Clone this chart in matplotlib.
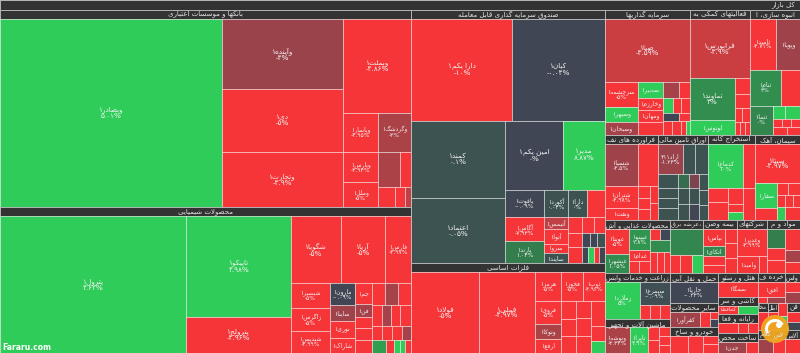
import matplotlib
matplotlib.use('Agg')
import matplotlib.pyplot as plt
from matplotlib.patches import Rectangle, Circle, Wedge
from matplotlib.colors import LinearSegmentedColormap

plt.rcParams['font.family'] = ['DejaVu Sans', 'Noto Sans']

# each cell: (symbol, market value, change label, colour tone -3..3)
banks = [('وبصادر۱', 43740, '۵.۰۱%', 3), ('وآینده۱', 8877, '-۴%', -1.3), ('دی۱', 7989, '-۵%', -3),
         ('وتجارت۱', 6974, '-۴.۹%', -3), ('وبملت۱', 6699, '-۴.۸۶%', -3), ('وپاسار۱', 1430, '-۴.۹۵%', -3),
         ('وپارس۱', 1100, '-۴.۹۴%', -3), ('وملل۱', 917, '-۵%', -3), ('وگردشگ۱', 1349, '-۳%', -1.6),
         ('', 807, '', -1.6), ('', 403, '', -3), ('', 356, '', -3), ('', 210, '', -3), ('', 126, '', -2)]
banks_tree = ('h', [0, ('h', [('v', [1, 2, 3]), ('v', [4, ('h', [('v', [5, 6, 7]),
              ('v', [8, ('v', [('h', [9, 10]), ('h', [11, 12, 13])])])])])])])

chem = [('پترول۱', 27160, '۴.۶۲%', 3), ('تاپیکو۱', 11200, '۴.۹۸%', 3), ('پترولج۱', 3990, '-۴.۹۶%', -3),
        ('شگویا۱', 3571, '-۵%', -3), ('آریا۱', 3214, '-۵%', -3), ('فارس۱', 1857, '-۴.۹۷%', -3),
        ('شبصیر۱', 1039, '-۵%', -3), ('زاگرس۱', 956, '-۵%', -3), ('شیدپس۱', 915, '-۴.۹۹%', -3),
        ('مارون۱', 560, '-۰.۰۹%', 0), ('ساینا۱', 426, '', -1.4), ('نوری۱', 426, '', -3), ('شاراک۱', 400, '', -3),
        ('جم۱', 381, '', -3), ('فن۱', 236, '', -1.5), ('', 199, '', -3), ('', 217, '', -3), ('', 236, '', -3),
        ('', 305, '', -3), ('', 305, '', -1.5), ('', 305, '', -3),
        ('', 224, '', -3), ('', 201, '', -1.5), ('', 201, '', -3), ('', 246, '', -3),
        ('', 149, '', -3), ('', 149, '', -3), ('', 149, '', -3), ('', 134, '', -1.5),
        ('', 194, '', 2), ('', 111, '', -3), ('', 83, '', 3), ('', 69, '', 3), ('', 83, '', -3)]
chem_tree = ('h', [0, ('v', [1, 2]), ('v', [('h', [3, 4, 5]), ('h', [('v', [6, 7, 8]), ('v', [9, 10, 11, 12]),
             ('v', [13, 14, 15, 16, 17]), ('v', [('h', [18, 19, 20]), ('h', [21, 22, 23, 24]),
             ('h', [25, 26, 27, 28]), ('h', [29, 30, 31, 32, 33])])])])])

fund = [('دارا یکم۱', 10683, '-۱۰%', -3), ('کیان۱', 9731, '-۰.۰۴%', 0), ('کمند۱', 7506, '۰.۱%', 0.3),
        ('اعتماد۱', 6336, '۰.۰۵%', 0.3), ('امین یکم۱', 4150, '۰%', 0), ('مدیر۱', 3005, '۸.۸۷%', 3),
        ('یاقوت۱', 1092, '-۰.۰۹%', 0), ('آگاس۱', 971, '-۷.۹۳%', -3), ('پارند۱', 890, '۱.۰۴%', 1.2),
        ('آکورد۱', 672, '۰.۰۴%', 0.3), ('دارا۱', 532, '۰%', 0.3), ('', 504, '', -3),
        ('آتیمس۱', 274, '', -2), ('آتوا۱', 373, '', -3), ('سرو۱', 224, '', -3), ('صایند۱', 249, '', 0.3),
        ('', 232, '', -3), ('', 199, '', -3), ('', 183, '', -3), ('', 203, '', -3), ('', 232, '', -3),
        ('', 116, '', 0), ('', 102, '', 0), ('', 116, '', 0.3),
        ('', 100, '', 0), ('', 100, '', 3), ('', 83, '', -3), ('', 100, '', 0)]
fund_tree = ('v', [('h', [0, 1]), ('h', [('v', [2, 3]), ('v', [('h', [4, 5]), ('h', [('v', [6, 7, 8]),
             ('v', [('h', [9, 10, 11]), ('h', [('v', [12, 13, 14, 15]), ('v', [('h', [16, 17, 18]),
             ('h', [('v', [19, 20]), ('v', [('h', [21, 22, 23]), ('h', [24, 25, 26, 27])])])])])])])])])])

metals = [('فولاد۱', 6030, '-۵%', -3), ('فملی۱', 5040, '-۴.۹۷%', -3), ('هرمز۱', 838, '-۵%', -3),
          ('فخوز۱', 709, '-۵%', -3), ('ذوب۱', 677, '-۴.۹۶%', -3), ('فروی۱', 664, '-۵%', -3),
          ('وتوکا۱', 433, '', -1.6), ('ارفع۱', 404, '', -3),
          ('', 300, '', -3), ('', 283, '', -3), ('', 283, '', -3), ('', 283, '', -3), ('', 300, '', -3),
          ('', 283, '', -3), ('', 389, '', -3), ('', 233, '', -3), ('', 187, '', 3)]
metals_tree = ('h', [0, 1, ('v', [('h', [2, 3, 4]), ('h', [('v', [5, 6, 7]),
               ('h', [('v', [8, 9, 10]), ('v', [11, 12, 13]), ('v', [14, 15, 16])])])])])

invest = [('صبا۱', 5772, '-۳.۵۹%', -2.2), ('سرچشمه۱', 889, '-۵%', -3), ('وسپهر۱', 534, '', 3),
          ('وسبحان۱', 462, '', -1.5), ('سدبیر۱', 431, '', 3), ('وخارزم۱', 323, '', -3), ('ومهان۱', 323, '', -3),
          ('', 350, '', -3), ('', 276, '', -1.5), ('', 190, '', -3), ('', 162, '', 3), ('', 129, '', -3),
          ('', 146, '', -3), ('', 138, '', 0), ('', 95, '', -3), ('', 136, '', -3), ('', 136, '', -3),
          ('', 75, '', -3), ('', 60, '', 3)]
invest_tree = ('v', [0, ('h', [('v', [1, 2, 3]), ('v', [4, 5, 6, 7]),
               ('v', [('h', [8, 9]), ('h', [10, 11, 12]), ('h', [13, 14]), ('h', [15, 16, 17, 18])])])])

facil = [('فرابورس۱', 3816, '-۳.۹%', -2.2), ('تماوند۱', 2038, '۳%', 1.6), ('لوتوس۱', 728, '', 3),
         ('', 259, '', -3), ('', 226, '', -3), ('', 113, '', -3), ('', 113, '', -3),
         ('', 70, '', -3), ('', 70, '', -3), ('', 70, '', -3)]
facil_tree = ('v', [0, ('h', [('v', [1, 2]), ('v', [3, 4, ('h', [5, 6]), ('h', [7, 8, 9])])])])

mass = [('ثامید۱', 1430, '-۴.۷۱%', -3), ('وپویا۱', 1320, '', -1.4), ('ثنام۱', 1203, '۳%', 1.6),
        ('', 737, '', -3), ('ثتما۱', 719, '۰%', 1.4), ('', 168, '', 3), ('', 210, '', 3),
        ('', 78, '', -3), ('', 78, '', -3), ('', 78, '', -3), ('', 121, '', -3), ('', 112, '', -3)]
mass_tree = ('v', [('h', [0, 1]), ('h', [2, 3]), ('h', [4, ('v', [('h', [5, 6]), ('h', [7, 8, 9]), ('h', [10, 11])])])])

oil = [('شسپا۱', 1567, '-۴.۵%', -1.4), ('', 949, '', -3), ('شتران۱', 801, '-۴.۹۸%', -3), ('ونفت۱', 437, '', -3),
       ('', 159, '', -3), ('', 146, '', -3), ('', 146, '', -3), ('', 150, '', -3), ('', 150, '', -3)]
oil_tree = ('v', [('h', [0, 1]), ('h', [('v', [2, 3]), ('v', [4, 5, 6]), ('v', [7, 8])])])

papers = [('اراد۴۱۱', 856, '-۱.۲۴%', -1.3), ('', 411, '', 0.3), ('', 445, '', 0.3),
          ('', 309, '', 0.3), ('', 221, '', 0.3), ('', 221, '', 0.3), ('', 265, '', 0.3),
          ('', 170, '', 0.8), ('', 194, '', 0.3), ('', 194, '', 0.3),
          ('', 155, '', -0.8), ('', 177, '', 0.3), ('', 177, '', 0),
          ('', 159, '', 0.3), ('', 149, '', 0.3), ('', 149, '', 0.3)]
papers_tree = ('v', [('h', [0, 1, 2]), ('h', [('v', [3, 4, 5, 6]), ('v', [7, 8, 9]), ('v', [10, 11, 12]), ('v', [13, 14, 15])])])

mining = [('کدماغ۱', 1739, '۱۰%', 3), ('', 596, '', -3), ('', 309, '', -3), ('', 397, '', -3),
          ('', 265, '', -3), ('', 132, '', -3), ('', 132, '', 3), ('', 424, '', -3)]
mining_tree = ('v', [('h', [0, 1]), ('h', [('v', [2, 3]), ('v', [4, 5, 6]), 7])])

cement = [('سیتا۱', 1987, '-۴.۹۷%', -3), ('سفار۱', 607, '', 3), ('', 291, '', -3), ('', 146, '', -3),
          ('', 159, '', -3), ('', 106, '', -3), ('', 106, '', -3), ('', 93, '', -3), ('', 115, '', 3), ('', 215, '', -3)]
cement_tree = ('v', [0, ('h', [('v', [1, 2]), ('v', [('h', [3, 4]), ('h', [5, 6, 7]), ('h', [8, 9])])])])

food = [('غویتا۱', 735, '-۵%', -3), ('غبشهر۱', 537, '۱.۰۵%', 1.5), ('غپینو۱', 544, '۲.۸%', 1.8), ('غدام۱', 272, '', -3),
        ('', 148, '', -3), ('', 148, '', -3), ('', 141, '', -3), ('', 141, '', 0), ('', 283, '', 1.5),
        ('', 173, '', -3), ('', 173, '', -3), ('', 148, '', -3)]
food_tree = ('h', [('v', [0, 1]), ('v', [2, 3, ('h', [4, 5])]), ('v', [('h', [6, 7]), 8, ('h', [9, 10, 11])])])

power = [('', 1050, '', 1.4), ('', 212, '', -3), ('', 254, '', -3), ('', 233, '', 3)]
power_tree = ('v', [0, ('h', [1, 2, 3])])

insur = [('بپاس۱', 466, '', -3), ('اتکای۱', 259, '', 1.4), ('', 233, '', -3), ('', 207, '', -3),
         ('', 212, '', -3), ('', 212, '', -3), ('', 212, '', -3)]
insur_tree = ('h', [('v', [0, 1, 2, 3]), ('v', [4, 5, 6])])

multi = [('وغدیر۱', 989, '-۴.۹۹%', -3), ('وامید۱', 441, '', -3), ('', 160, '', -3)]
multi_tree = ('v', [0, ('h', [1, 2])])

materials = [('', 424, '', 1.2), ('', 254, '', -3), ('', 276, '', -3), ('', 389, '', -3), ('', 212, '', -1.5), ('', 194, '', -3)]
materials_tree = ('h', [('v', [0, 1, 2]), ('v', [3, 4, 5])])

agri = [('زملارد۱', 1610, '۵%', 3), ('سیمرغ۱', 858, '-۰.۰۹%', 0.2), ('', 174, '', -3), ('', 174, '', -3), ('', 174, '', -3)]
agri_tree = ('h', [0, ('v', [1, ('h', [2, 3, 4])])])

machine = [('ونوشه۱', 850, '-۳.۳۳%', -1.6), ('تاپرا۱', 612, '۴.۹%', 3), ('', 187, '', -3), ('', 187, '', -3),
           ('', 130, '', -3), ('', 130, '', -3), ('', 115, '', -3)]
machine_tree = ('h', [0, 1, ('v', [2, 3]), ('v', [4, 5, 6])])

shipping = [('حاریا۱', 1440, '-۰.۲۳%', 0)]
other = [('کفرآور۱', 720, '', -1.4), ('', 240, '', -3), ('', 96, '', -3), ('', 96, '', 0)]
auto = [('', 468, '', -3), ('', 390, '', -3), ('', 195, '', -3), ('', 195, '', -3)]
hotel = [('سمگا۱', 960, '', -3)]
tile = [('کحافظ۱', 340, '', -3), ('', 340, '', 3)]
computer = [('', 380, '', -3), ('', 190, '', -3), ('', 190, '', -3)]
fabmetal = [('جدن۱', 560, '', -1.4), ('', 240, '', -3)]
retail = [('افق۱', 579, '-۴.۸۸%', -3), ('', 77, '', -3), ('', 154, '', -1.4)]
was = [('', 214, '', -3), ('', 236, '', -1.4)]
small_a = [('', 270, '', -3)]
small_b = [('', 135, '', -3), ('', 135, '', -3)]
small_c = [('', 120, '', -3), ('', 123, '', 3)]
small_d = [('', 200, '', -3), ('', 151, '', 0)]
small_e = [('', 345, '', -1.4)]
small_f = [('', 276, '', -3)]
small_g = [('', 345, '', -3)]

# Persian letter shapes: isolated, final, initial, medial
FORMS = {
    'آ': (0xFE81, 0xFE82, None, None), 'ا': (0xFE8D, 0xFE8E, None, None),
    'ب': (0xFE8F, 0xFE90, 0xFE91, 0xFE92), 'پ': (0xFB56, 0xFB57, 0xFB58, 0xFB59),
    'ت': (0xFE95, 0xFE96, 0xFE97, 0xFE98), 'ث': (0xFE99, 0xFE9A, 0xFE9B, 0xFE9C),
    'ج': (0xFE9D, 0xFE9E, 0xFE9F, 0xFEA0), 'چ': (0xFB7A, 0xFB7B, 0xFB7C, 0xFB7D),
    'ح': (0xFEA1, 0xFEA2, 0xFEA3, 0xFEA4), 'خ': (0xFEA5, 0xFEA6, 0xFEA7, 0xFEA8),
    'د': (0xFEA9, 0xFEAA, None, None), 'ذ': (0xFEAB, 0xFEAC, None, None),
    'ر': (0xFEAD, 0xFEAE, None, None), 'ز': (0xFEAF, 0xFEB0, None, None),
    'ژ': (0xFB8A, 0xFB8B, None, None),
    'س': (0xFEB1, 0xFEB2, 0xFEB3, 0xFEB4), 'ش': (0xFEB5, 0xFEB6, 0xFEB7, 0xFEB8),
    'ص': (0xFEB9, 0xFEBA, 0xFEBB, 0xFEBC), 'ض': (0xFEBD, 0xFEBE, 0xFEBF, 0xFEC0),
    'ط': (0xFEC1, 0xFEC2, 0xFEC3, 0xFEC4), 'ظ': (0xFEC5, 0xFEC6, 0xFEC7, 0xFEC8),
    'ع': (0xFEC9, 0xFECA, 0xFECB, 0xFECC), 'غ': (0xFECD, 0xFECE, 0xFECF, 0xFED0),
    'ف': (0xFED1, 0xFED2, 0xFED3, 0xFED4), 'ق': (0xFED5, 0xFED6, 0xFED7, 0xFED8),
    'ک': (0xFB8E, 0xFB8F, 0xFB90, 0xFB91), 'گ': (0xFB92, 0xFB93, 0xFB94, 0xFB95),
    'ل': (0xFEDD, 0xFEDE, 0xFEDF, 0xFEE0), 'م': (0xFEE1, 0xFEE2, 0xFEE3, 0xFEE4),
    'ن': (0xFEE5, 0xFEE6, 0xFEE7, 0xFEE8), 'و': (0xFEED, 0xFEEE, None, None),
    'ه': (0xFEE9, 0xFEEA, 0xFEEB, 0xFEEC), 'ی': (0xFBFC, 0xFBFD, 0xFBFE, 0xFBFF),
}
DIGITS = '0123456789۰۱۲۳۴۵۶۷۸۹'


def rtl(text):
    """Join Persian letters and put them in visual (right to left) order."""
    text = text.replace('ي', 'ی').replace('ك', 'ک')
    out = []
    i = 0
    while i < len(text):
        ch = text[i]
        prev = text[i - 1] if i > 0 else ''
        nxt = text[i + 1] if i + 1 < len(text) else ''
        join_prev = prev in FORMS and FORMS[prev][2] is not None
        if ch == 'ل' and nxt in ('ا', 'آ'):
            lig = (0xFEFB, 0xFEFC) if nxt == 'ا' else (0xFEF5, 0xFEF6)
            out.append(chr(lig[1] if join_prev else lig[0]))
            i += 2
            continue
        if ch in FORMS:
            iso, fin, ini, med = FORMS[ch]
            join_next = ini is not None and nxt in FORMS
            if join_prev and join_next:
                c = med
            elif join_prev:
                c = fin
            elif join_next:
                c = ini
            else:
                c = iso
            out.append(chr(c))
        else:
            out.append(ch)
        i += 1
    # reverse, but keep runs of digits left to right
    runs = []
    for c in out:
        if runs and c in DIGITS and runs[-1][0] in DIGITS:
            runs[-1] += c
        else:
            runs.append(c)
    return ''.join(reversed(runs))


cmap = LinearSegmentedColormap.from_list('fv', ['#f63538', '#bf4045', '#8b444e', '#414554',
                                                '#35764e', '#2f9e4f', '#30cc5a'])

ROOT = 'کل بازار'


def sector(title, leaves, tree=None):
    if tree is None:
        tree = ('h', list(range(len(leaves))))
    return ('S', title, leaves, tree)


left_col = ('v', [sector('بانکها و موسسات اعتباری', banks, banks_tree),
                  sector('محصولات شیمیایی', chem, chem_tree)])
mid_col = ('v', [sector('صندوق سرمایه گذاری قابل معامله', fund, fund_tree),
                 sector('فلزات اساسی', metals, metals_tree)])
row1 = ('h', [sector('سرمایه گذاریها', invest, invest_tree), sector('فعالیتهای کمکی به', facil, facil_tree),
              sector('انبوه سازی، ا', mass, mass_tree)])
row2 = ('h', [sector('فراورده های نف', oil, oil_tree), sector('اوراق تامین مالی', papers, papers_tree),
              sector('استخراج کانه', mining, mining_tree), sector('سیمان، آهک', cement, cement_tree)])
row3 = ('h', [sector('محصولات غذایی و آش', food, food_tree), sector('،عرضه برق', power, power_tree),
              sector('بیمه وصن', insur, insur_tree), sector('شرکتهای', multi, multi_tree),
              sector('مواد و م', materials, materials_tree)])
col_a = ('v', [sector('زراعت و خدمات وابس', agri, agri_tree), sector('ماشین آلات و تجهیز', machine, machine_tree)])
col_b = ('v', [sector('حمل و نقل آبی', shipping), sector('سایر محصولات', other, ('h', [0, 1, ('v', [2, 3])])),
               sector('خودرو و ساخ', auto, ('h', [0, 1, ('v', [2, 3])]))])
col_c = ('h', [('v', [sector('هتل و رستو', hotel), sector('کاشی و سر', tile), sector('رایانه و فعا', computer),
                      sector('ساخت محص', fabmetal)]),
               ('v', [('h', [sector('خرده ف', retail, ('v', [0, ('h', [1, 2])])), sector('واس', was, ('v', [0, 1]))]),
                      ('h', [sector('محا', small_a), sector('اطل', small_b, ('v', [0, 1])),
                             sector(None, small_c, ('v', [0, 1])), sector('فن', small_d, ('v', [0, 1]))]),
                      ('h', [sector('کلام', small_e), sector('لاس', small_f), sector('آلاس', small_g)])])])
right_col = ('v', [row1, row2, row3, ('h', [col_a, col_b, col_c])])
market = sector(ROOT, [], ('h', [left_col, mid_col, right_col]))

W, H = 800, 353
fig = plt.figure(figsize=(8, 3.53), dpi=100)
fig.patch.set_facecolor('#cfcfcf')
ax = fig.add_axes([0, 0, 1, 1])
ax.set_xlim(0, W)
ax.set_ylim(H, 0)
ax.axis('off')
renderer = fig.canvas.get_renderer()


def fit(t, maxw, fs, smallest):
    # shrink a text until it fits in maxw pixels
    width = t.get_window_extent(renderer).width
    if width > maxw:
        t.set_fontsize(max(smallest, fs * maxw / width))


def total(node, leaves):
    if isinstance(node, int):
        return leaves[node][1]
    if node[0] == 'S':
        return total(node[3], node[2])
    return sum(total(k, leaves) for k in node[1])


def draw_cell(cell, x, y, w, h):
    name, value, pct, tone = cell
    ax.add_patch(Rectangle((x, y), w, h, facecolor=cmap((tone + 3) / 6),
                           edgecolor=(1, 1, 1, 0.5), lw=0.6))
    if not name or w < 15 or h < 8:
        return
    fs = 5.2 if (w > 40 and h > 30) else 4.3
    txt = rtl(name)
    if pct and h >= 18:
        txt = txt + '\n' + pct
    t = ax.text(x + w / 2, y + h / 2, txt, ha='center', va='center', fontsize=fs,
                color='#f2f2f2', linespacing=1.0)
    fit(t, w - 3, fs, 2.8)


def draw_header(title, x, y, w, h):
    rect = Rectangle((x, y), w, h, facecolor='#333333', edgecolor='#bdbdbd', lw=0.6)
    ax.add_patch(rect)
    fs = 5.0
    if title == ROOT:
        t = ax.text(x + w - 5, y + h / 2 + 0.5, rtl(title), ha='right', va='center',
                    fontsize=fs, color='#e6e6e6')
    else:
        t = ax.text(x + w / 2, y + h / 2 + 0.5, rtl(title), ha='center', va='center',
                    fontsize=fs, color='#e6e6e6')
        fit(t, w - 2, fs, 4.0)
        t.set_clip_path(rect)


def draw(node, x, y, w, h, leaves):
    if isinstance(node, int):
        draw_cell(leaves[node], x, y, w, h)
        return
    if node[0] == 'S':
        _, title, sub, tree = node
        if title is not None:
            hh = 10 if title == ROOT else 8.5
            draw_header(title, x, y, w, hh)
            y += hh
            h -= hh
        draw(tree, x, y, w, h, sub)
        return
    orient, kids = node
    sizes = [total(k, leaves) for k in kids]
    s = sum(sizes)
    for k, v in zip(kids, sizes):
        if orient == 'h':
            ww = w * v / s
            draw(k, x, y, ww, h, leaves)
            x += ww
        else:
            hh = h * v / s
            draw(k, x, y, w, hh, leaves)
            y += hh


draw(market, 0, 0, W, H, [])

# watermark and logo
ax.text(2, 347, 'Fararu.com', ha='left', va='center', fontsize=5.5, color='white', fontweight='bold')
ax.add_patch(Circle((775, 329), 14, facecolor='#f0a81e', edgecolor='none', alpha=0.95))
ax.add_patch(Wedge((775, 329), 10, 150, 330, width=3, facecolor='white', edgecolor='none'))
ax.add_patch(Circle((779, 325), 3, facecolor='white', edgecolor='none'))

fig.savefig('out.png', dpi=100)
